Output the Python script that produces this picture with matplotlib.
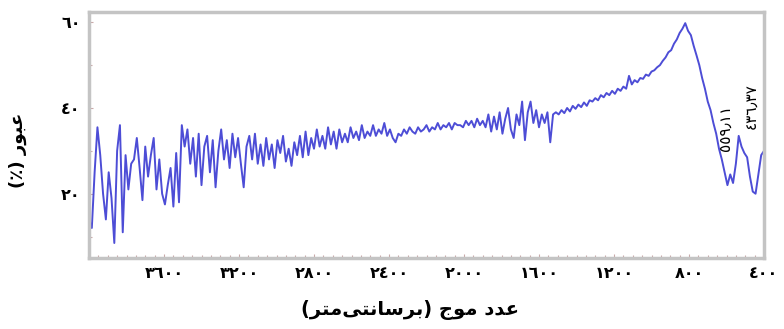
import numpy as np
import matplotlib.pyplot as plt
from matplotlib.ticker import MultipleLocator, FixedLocator

# FTIR spectrum (every 15 cm-1, 4000 -> 400)
wavenumber = np.arange(4000, 399, -15)
transmittance = [
    14, 12, 25, 35.5, 29, 20, 14, 25, 19, 8.5,
    30, 36, 11, 29, 21, 27, 28, 33, 26, 18.5,
    31, 24, 29, 33, 21, 28, 20, 17.5, 22, 26,
    17, 29.5, 18, 36, 31, 35, 27, 33, 24, 34,
    22, 31, 33.5, 25, 32.5, 21.5, 30, 35, 28, 32.5,
    26, 34, 28.5, 33, 27, 21.5, 31, 33.5, 28, 34,
    27, 31.5, 26.5, 33, 28, 31.5, 26, 32.5, 29.5, 33.5,
    27.5, 30.5, 26.5, 32, 29, 33.5, 28.5, 34.5, 29, 33,
    30.5, 35, 31, 33.5, 30.5, 35.5, 31.5, 34.5, 30.5, 35,
    32, 34, 32, 35.5, 33, 34.5, 32.5, 36, 33, 34.5,
    33.5, 36, 33.5, 35, 34, 36.5, 33.5, 35, 33, 32,
    34, 33.5, 35, 34, 35.5, 34.5, 34, 35.5, 34.5, 35,
    36, 34.5, 35.5, 35, 36.5, 35, 36, 35.5, 36.5, 35,
    36.5, 36, 36, 35.5, 37, 36, 37, 35.5, 37.5, 36,
    37, 35.5, 38.5, 34.5, 38, 35, 39, 34, 37.5, 40,
    35, 33, 38.5, 36, 41.5, 32.5, 39, 41.5, 36.5, 39.5,
    35.5, 38.5, 36.5, 39, 32, 38.5, 39, 38.5, 39.5, 38.8,
    40, 39.2, 40.5, 39.8, 40.8, 40.2, 41.3, 40.5, 41.8, 41.5,
    42.3, 41.8, 43, 42.5, 43.5, 43, 44, 43.3, 44.5, 44,
    45, 44.5, 47.5, 45.5, 46.5, 46, 47, 46.8, 47.8, 47.5,
    48.5, 48.8, 49.5, 50, 51, 51.8, 53, 53.5, 55, 56,
    57.5, 58.5, 59.8, 58, 57, 54.5, 52.3, 50, 47, 44.5,
    41.5, 39.5, 36.5, 34, 30.5, 28, 25, 22, 24.5, 22.5,
    27, 33.5, 31, 29.5, 28.5, 24, 20.5, 20, 24.5, 29,
    30,
]

x_ticks = [3600, 3200, 2800, 2400, 2000, 1600, 1200, 800, 400]
y_ticks = [20, 40, 60]
peak_labels = ["\u0665\u0665\u0669\u066b\u0661\u0661", "\u0664\u0663\u0666\u066b\u0663\u0667"]
peak_pos = [(606, 35.3), (462, 40.5)]

# persian text, already shaped and in visual order (matplotlib has no bidi)
xlabel = ("(\ufeae\ufe98\ufee3\ufef0\ufe98\ufee7\ufe8e\ufeb3\ufeae\ufe91) "
          "\ufe9d\ufeee\ufee3 \ufea9\ufeaa\ufecb")
ylabel = "(\u066a) \ufead\ufeee\ufe92\ufecb"


def fa_digits(v):
    return str(v).translate(str.maketrans("0123456789", "\u0660\u0661\u0662\u0663\u0664\u0665\u0666\u0667\u0668\u0669"))


plt.rcParams['font.family'] = ['DejaVu Sans']

fig = plt.figure(figsize=(7.84, 3.29), dpi=100)
ax = fig.add_axes([89/784, 1-258/329, (764-89)/784, (258-12)/329])

ax.plot(wavenumber, transmittance, color='#4d4dd6', lw=1.4)

ax.set_xlim(4000, 400)
ax.set_ylim(5, 62.4)

ax.xaxis.set_major_locator(FixedLocator(x_ticks))
ax.set_xticklabels([fa_digits(t) for t in x_ticks], fontsize=11.5, fontweight='bold')
ax.xaxis.set_minor_locator(MultipleLocator(50))
ax.yaxis.set_major_locator(FixedLocator(y_ticks))
ax.set_yticklabels([fa_digits(t) for t in y_ticks], fontsize=11.5, fontweight='bold')
ax.yaxis.set_minor_locator(MultipleLocator(10))

ax.tick_params(which='both', direction='in', color='#c9a9a9', width=0.8)
ax.tick_params(which='major', length=3, pad=6)
ax.tick_params(which='minor', length=2)

for s in ax.spines.values():
    s.set_color('#c4c4c4')
    s.set_linewidth(2.5)

for lab, (xp, yp) in zip(peak_labels, peak_pos):
    ax.text(xp, yp, lab, rotation=90, ha='center', va='center', fontsize=11)

fig.text(18/784, 1-150/329, ylabel, rotation=90, ha='center', va='center',
         fontsize=13, fontweight='bold')
fig.text(410/784, 1-310/329, xlabel, ha='center', va='center',
         fontsize=14, fontweight='bold')

fig.savefig('out.png', dpi=100)
